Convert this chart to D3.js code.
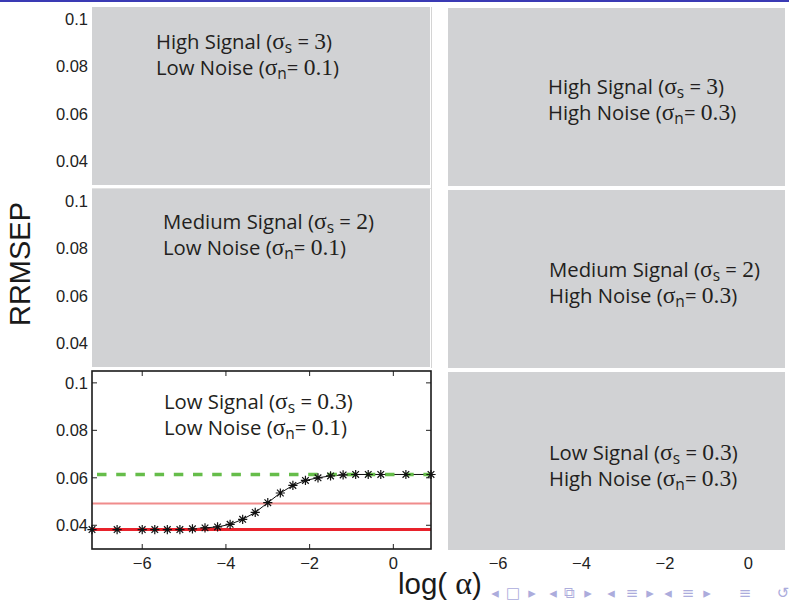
<!DOCTYPE html>
<html><head><meta charset="utf-8">
<script src="https://cdn.jsdelivr.net/npm/d3@7"></script>
<style>body{margin:0;background:#fff;overflow:hidden}</style>
</head><body>
<svg id="c" width="789" height="603"></svg>
<script>
// ---- data ----
const logAlpha = [-7.2, -6.6, -6.0, -5.7, -5.4, -5.1, -4.8, -4.5, -4.2, -3.9, -3.6, -3.3, -3.0, -2.7, -2.4, -2.1, -1.8, -1.5, -1.2, -0.9, -0.6, -0.3, 0.3, 0.9];
const rrmsep   = [0.0382, 0.0382, 0.0382, 0.0382, 0.0382, 0.0382, 0.0385, 0.0389, 0.0393, 0.0404, 0.0425, 0.0454, 0.0495, 0.0536, 0.0568, 0.0589, 0.0600, 0.0608, 0.0612, 0.0614, 0.0614, 0.0614, 0.0614, 0.0614];
const refLevels = [0.0382, 0.0492, 0.0614];
const yTicks = [0.04, 0.06, 0.08, 0.1];
const yTickLabels = ["0.04", "0.06", "0.08", "0.1"];
const xTicks = [-6, -4, -2, 0];
const xTickLabels = ["\u22126", "\u22124", "\u22122", "0"];
const signalNames = ["High", "Medium", "Low"];
const signalSigmas = ["3", "2", "0.3"];
const noiseNames = ["Low", "High"];
const noiseSigmas = ["0.1", "0.3"];

// ---- layout ----
const svg = d3.select("#c");
const colX = [92, 448], colW = [339, 338];
const rowY = [7, 189, 371], rowH = 178;
const SANS = "'Liberation Sans', Arial, sans-serif";
const LBL = "'Open Sans', sans-serif";
const SERIF = "'Liberation Serif', 'Times New Roman', serif";

svg.append("rect").attr("x",0).attr("y",0).attr("width",789).attr("height",2).attr("fill","#3a3ab4");

function xs(c){ return d3.scaleLinear().domain([-7.2, 0.9]).range([colX[c], colX[c]+colW[c]]); }
function ys(r){ return d3.scaleLinear().domain([0.03, 0.105]).range([rowY[r]+rowH, rowY[r]]); }

// ---- bottom-left real axes ----
{
  const x = xs(0), y = ys(2);
  const g = svg.append("g");
  const styles = [
    {color:"#e8222b", w:3, dash:null},
    {color:"#f08c8c", w:2, dash:null},
    {color:"#66bd4a", w:3.5, dash:"9.5,9.7"}
  ];
  const line = d3.line().x((d,i)=>x(logAlpha[i])).y(d=>y(d));
  g.append("path").datum(rrmsep).attr("d", line).attr("fill","none").attr("stroke","#111").attr("stroke-width",1);
  refLevels.forEach((v,i)=>{
    g.append("line").attr("x1",x(-7.2)).attr("x2",x(0.9)).attr("y1",y(v)).attr("y2",y(v))
      .attr("stroke",styles[i].color).attr("stroke-width",styles[i].w)
      .attr("stroke-dasharray",styles[i].dash).attr("stroke-dashoffset", i==2?-5:0);
  });
  const x0=x.range()[0], x1=x.range()[1], y0=y.range()[1], y1=y.range()[0];
  xTicks.forEach(t=>{
    g.append("line").attr("x1",x(t)).attr("x2",x(t)).attr("y1",y1).attr("y2",y1-5).attr("stroke","#222").attr("stroke-width",1);
    g.append("line").attr("x1",x(t)).attr("x2",x(t)).attr("y1",y0).attr("y2",y0+5).attr("stroke","#222").attr("stroke-width",1);
  });
  yTicks.forEach(t=>{
    g.append("line").attr("x1",x0).attr("x2",x0+5).attr("y1",y(t)).attr("y2",y(t)).attr("stroke","#222").attr("stroke-width",1);
    g.append("line").attr("x1",x1).attr("x2",x1-5).attr("y1",y(t)).attr("y2",y(t)).attr("stroke","#222").attr("stroke-width",1);
  });
  g.append("rect").attr("x",x0).attr("y",y0).attr("width",x1-x0).attr("height",y1-y0)
    .attr("fill","none").attr("stroke","#1a1a1a").attr("stroke-width",1.6);
  const r = 4.6, d = r*0.72;
  const star = `M${-r},0L${r},0M0,${-r}L0,${r}M${-d},${-d}L${d},${d}M${-d},${d}L${d},${-d}`;
  g.selectAll(".m").data(rrmsep).enter().append("path").attr("class","m")
    .attr("transform",(v,i)=>`translate(${x(logAlpha[i])},${y(v)})`)
    .attr("d", star).attr("fill","none").attr("stroke","#111").attr("stroke-width",1.2);
}

// ---- tick labels ----
for (let r=0;r<3;r++){
  const y = ys(r);
  yTicks.forEach((t,i)=>{
    svg.append("text").attr("x",88).attr("y",y(t)).attr("dy","0.36em").attr("text-anchor","end")
      .attr("font-family",SANS).attr("font-size",16.5).attr("fill","#222").text(yTickLabels[i]);
  });
}
for (let c=0;c<2;c++){
  const x = xs(c);
  xTicks.forEach((t,i)=>{
    svg.append("text").attr("x",x(t)).attr("y",569).attr("text-anchor","middle")
      .attr("font-family",SANS).attr("font-size",16.5).attr("fill","#222").text(xTickLabels[i]);
  });
}

// ---- gray overlays ----
const overlays = [[0,0],[0,1],[1,0],[1,1],[2,1]];
overlays.forEach(([r,c])=>{
  svg.append("rect").attr("x",colX[c]).attr("y",rowY[r]+(c==1?1:0)).attr("width",colW[c]-1).attr("height",rowH)
    .attr("fill","#d1d2d4");
});
svg.append("line").attr("x1",431.5).attr("x2",431.5).attr("y1",7).attr("y2",368).attr("stroke","#d4d4d4").attr("stroke-width",1);
svg.append("line").attr("x1",92).attr("x2",431).attr("y1",188.5).attr("y2",188.5).attr("stroke","#e2e2e2").attr("stroke-width",1);

// ---- panel labels ----
const labelPos = [
  [[156,49],[548,94]],
  [[163,229],[549,277]],
  [[164,409],[549,460]]
];
function addLine(x, y, segs){
  const t = svg.append("text").attr("x",x).attr("y",y).attr("fill","#231f20");
  let shifted = false;
  segs.forEach(([s,k])=>{
    const ts = t.append("tspan").text(s);
    if (k==="sans") ts.attr("font-family",LBL).attr("font-size",20.3);
    if (k==="serif") ts.attr("font-family",SERIF).attr("font-size",23.5);
    if (k==="sub") { ts.attr("font-family",LBL).attr("font-size",15.5).attr("dy",4); shifted=true; }
    else if (shifted) { ts.attr("dy",-4); shifted=false; }
  });
}
for (let r=0;r<3;r++) for (let c=0;c<2;c++){
  const [lx,ly] = labelPos[r][c];
  addLine(lx, ly, [[`${signalNames[r]} Signal (`,"sans"],["\u03c3","serif"],["s","sub"],[" = ","sans"],[signalSigmas[r],"serif"],[")","sans"]]);
  addLine(lx, ly+26, [[`${noiseNames[c]} Noise (`,"sans"],["\u03c3","serif"],["n","sub"],["= ","sans"],[noiseSigmas[c],"serif"],[")","sans"]]);
}

// ---- axis titles ----
svg.append("text").attr("transform","translate(30,264) rotate(-90)").attr("text-anchor","middle")
  .attr("font-family",SANS).attr("font-size",29).attr("fill","#1a1a1a").text("RRMSEP");
{
  const t = svg.append("text").attr("x",398).attr("y",594).attr("fill","#1a1a1a").attr("font-size",29.5);
  t.append("tspan").attr("font-family",SANS).text("log(");
  t.append("tspan").attr("font-family",SERIF).attr("font-size",32).text(" \u03b1");
  t.append("tspan").attr("font-family",SANS).text(")");
}

// ---- beamer navigation symbols ----
const navGlyphs = [["\u25c2",495],["\u25a1",513],["\u25b8",532],["\u25c2",553],["\u29c9",569],["\u25b8",588],["\u25c2",611],["\u2261",632],["\u25b8",650],["\u25c2",668],["\u2261",688],["\u25b8",707],["\u2261",745],["\u21ba",783]];
navGlyphs.forEach(([g,x])=>{
  svg.append("text").attr("x",x).attr("y",598).attr("text-anchor","middle")
    .attr("font-family","'DejaVu Sans', sans-serif").attr("font-size",15).attr("fill","#acacdc").text(g);
});
</script>
</body></html>
